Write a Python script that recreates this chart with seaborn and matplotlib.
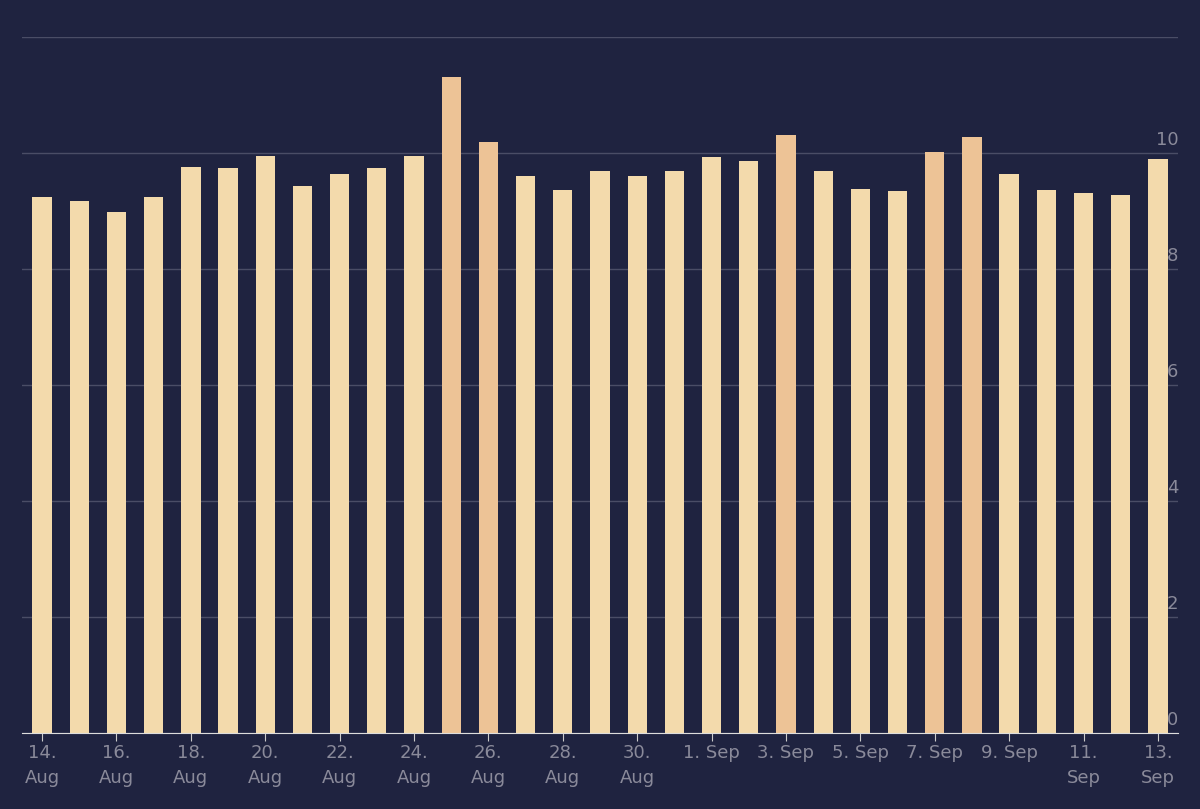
import matplotlib
matplotlib.use("Agg")
import matplotlib.pyplot as plt
import seaborn as sns
import pandas as pd

dates = [f"{d}. Aug" for d in range(14, 32)] + [f"{d}. Sep" for d in range(1, 14)]
values = [9.24, 9.18, 8.98, 9.24, 9.77, 9.74, 9.95, 9.43, 9.64, 9.74, 9.95, 11.32, 10.19,
          9.6, 9.36, 9.7, 9.6, 9.69, 9.93, 9.86, 10.31, 9.69, 9.39, 9.34, 10.02, 10.28,
          9.64, 9.36, 9.31, 9.27, 9.9]
highlight = ["25. Aug", "26. Aug", "3. Sep", "7. Sep", "8. Sep"]
tick_labels = ["14.\nAug", "16.\nAug", "18.\nAug", "20.\nAug", "22.\nAug", "24.\nAug", "26.\nAug",
               "28.\nAug", "30.\nAug", "1. Sep", "3. Sep", "5. Sep", "7. Sep", "9. Sep",
               "11.\nSep", "13.\nSep"]

df = pd.DataFrame({"date": dates, "value": values})
df["kind"] = ["hi" if d in highlight else "lo" for d in dates]

bg = "#1f2340"
fig = plt.figure(figsize=(12, 8.09), dpi=100, facecolor=bg)
ax = fig.add_axes([0.018, 0.094, 0.964, 0.86])
ax.set_facecolor(bg)
sns.barplot(data=df, x="date", y="value", hue="kind", palette={"lo": "#ffdda0", "hi": "#fcc387"},
            dodge=False, width=0.52, legend=False, ax=ax, zorder=2)
ax.set_ylim(0, 12)
ax.set_xlim(-0.55, 30.55)
ax.set_yticks([0, 2, 4, 6, 8, 10, 12])
ax.yaxis.grid(True, color="#4a4d66", linewidth=1, zorder=0)
ax.set_axisbelow(True)
ax.tick_params(axis="y", length=0, labelleft=False)
for v in [0, 2, 4, 6, 8, 10]:
    ax.text(1.0, v + 0.07, str(v), transform=ax.get_yaxis_transform(), ha="right", va="bottom",
            color="#8a8a9a", fontsize=13, zorder=3)
ax.set_xticks(range(0, 31, 2))
ax.set_xticklabels(tick_labels, color="#8a8a9a", fontsize=13, linespacing=1.5)
ax.tick_params(axis="x", length=6, color="#cccccc", pad=2)
for s in ["top", "right", "left"]:
    ax.spines[s].set_visible(False)
ax.spines["bottom"].set_color("#dddddd")
ax.set_xlabel("")
ax.set_ylabel("")
fig.savefig("out.png", facecolor=bg)
